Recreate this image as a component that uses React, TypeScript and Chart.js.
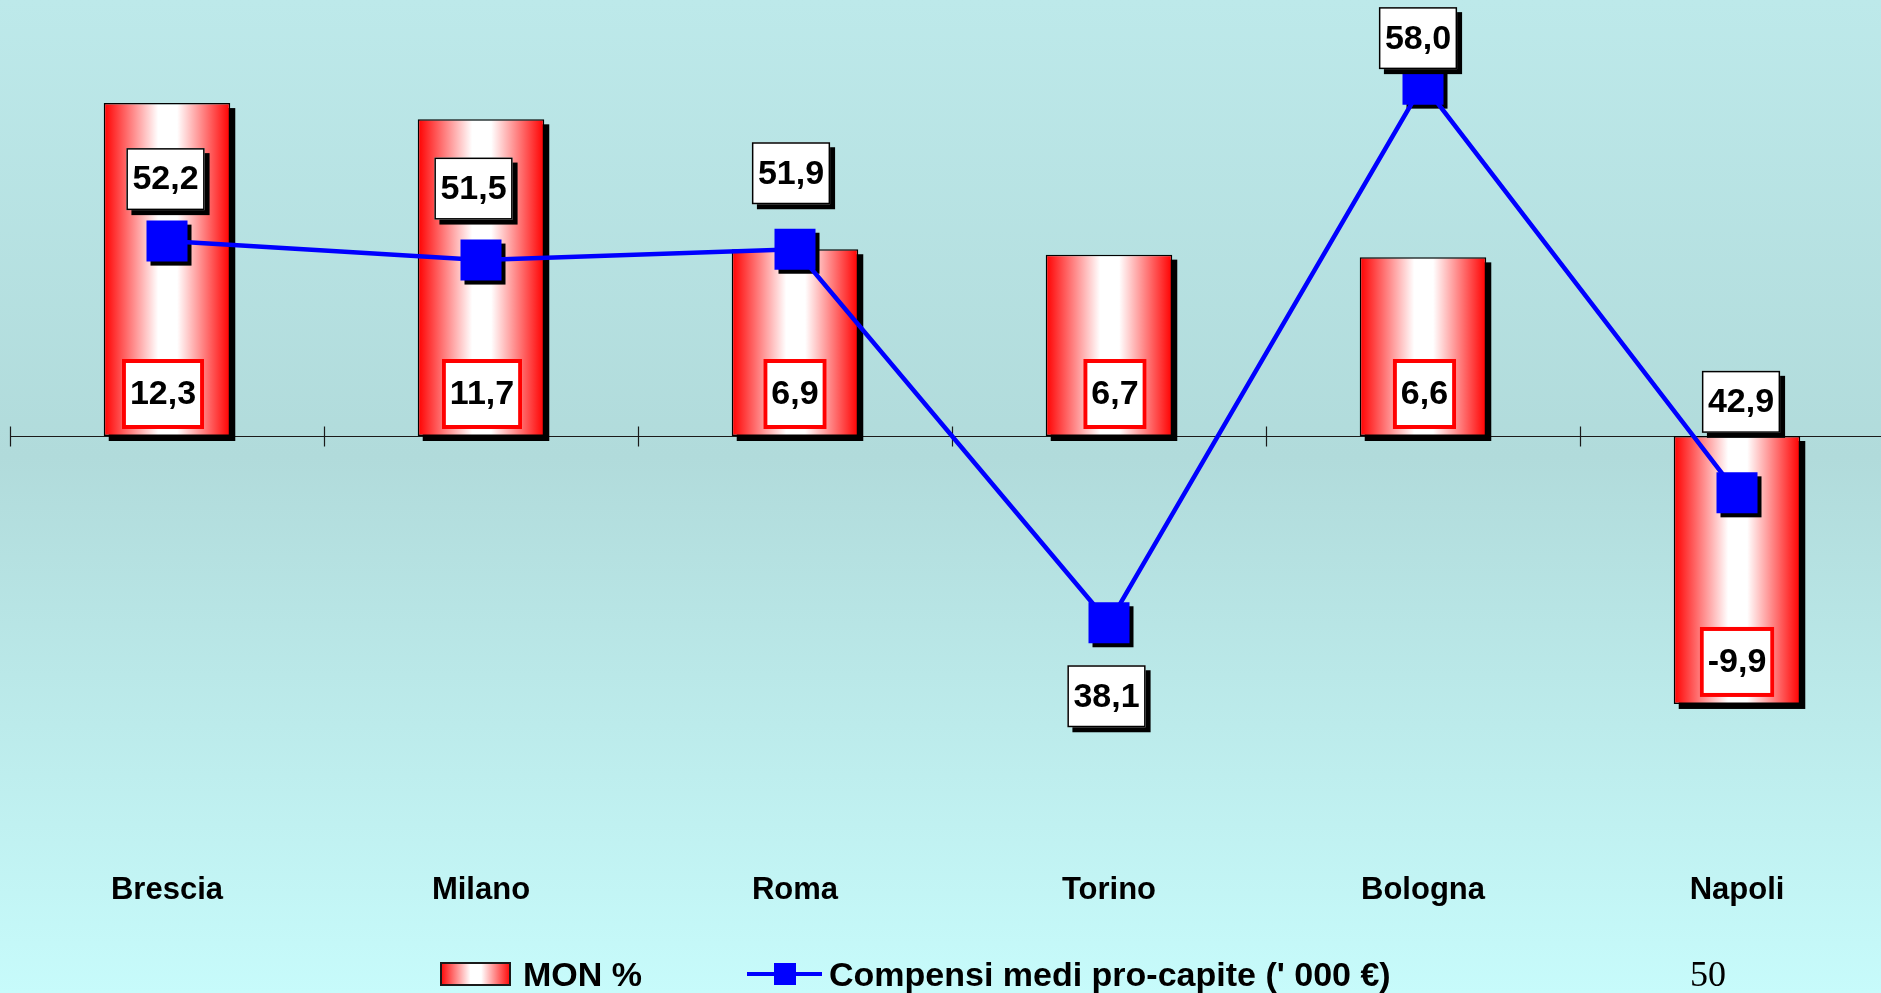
import React, { useEffect, useRef } from "react";
import { Chart, registerables } from "chart.js";

Chart.register(...registerables);

// ---- data ----
const categories = ["Brescia", "Milano", "Roma", "Torino", "Bologna", "Napoli"];
const monPercent = [12.3, 11.7, 6.9, 6.7, 6.6, -9.9];
const compensiMedi = [52.2, 51.5, 51.9, 38.1, 58.0, 42.9];
const barSeriesName = "MON %";
const lineSeriesName = "Compensi medi pro-capite (' 000 €)";
const pageNumber = "50";

// ---- layout / style constants (label placement offsets in px) ----
const lineLabelDy = [-62, -71.5, -76, 73.5, -46, -91];
const lineLabelDx = [-1.5, -7.5, -4, -2.5, -5, 4];
const barLabelDx = [-4, 1, 0, 6, 1.5, 0];

const FONT = "'Liberation Sans', Arial, Helvetica, sans-serif";
const BAR_PCT = 0.403;
const MARKER = 41;
const CANVAS_W = 1904;
const CANVAS_H = 993;

const fmt = (v: number) => v.toFixed(1).replace(".", ",");

function redGradient(ctx: CanvasRenderingContext2D, x0: number, x1: number) {
  const g = ctx.createLinearGradient(x0, 0, x1, 0);
  g.addColorStop(0, "#FF0000");
  g.addColorStop(0.43, "#FFFFFF");
  g.addColorStop(0.58, "#FFFFFF");
  g.addColorStop(1, "#FF0000");
  return g;
}

const decorPlugin = {
  id: "decor",
  beforeDatasetsDraw(chart: any) {
    const ctx = chart.ctx as CanvasRenderingContext2D;
    const xs = chart.scales.x;
    const ys = chart.scales.y;
    const y0 = Math.round(ys.getPixelForValue(0)) + 0.5;
    const catW = xs.width / categories.length;
    ctx.save();
    ctx.strokeStyle = "#1a1a1a";
    ctx.lineWidth = 1.2;
    ctx.beginPath();
    ctx.moveTo(xs.left, y0);
    ctx.lineTo(chart.width, y0);
    for (let i = 0; i <= categories.length; i++) {
      const tx = Math.round(xs.left + i * catW) + 0.5;
      ctx.moveTo(tx, y0 - 10);
      ctx.lineTo(tx, y0 + 10);
    }
    ctx.stroke();
    ctx.restore();
  },
  beforeDatasetDraw(chart: any, args: any) {
    const ctx = chart.ctx as CanvasRenderingContext2D;
    const meta = args.meta;
    ctx.save();
    ctx.fillStyle = "#000000";
    if (meta.type === "bar") {
      meta.data.forEach((el: any) => {
        const { x, y, base, width } = el.getProps(["x", "y", "base", "width"], true);
        const top = Math.min(y, base);
        const h = Math.abs(y - base);
        ctx.fillRect(x - width / 2 + 5, top + 5, width, h);
      });
    } else if (meta.type === "line") {
      meta.data.forEach((el: any) => {
        const { x, y } = el.getProps(["x", "y"], true);
        ctx.fillRect(x - MARKER / 2 + 4, y - MARKER / 2 + 4, MARKER, MARKER);
      });
    }
    ctx.restore();
  },
  afterDatasetsDraw(chart: any) {
    const ctx = chart.ctx as CanvasRenderingContext2D;
    ctx.save();
    ctx.font = `bold 34px ${FONT}`;
    ctx.textAlign = "center";
    ctx.textBaseline = "middle";

    // bar labels
    const barMeta = chart.getDatasetMeta(1);
    barMeta.data.forEach((el: any, i: number) => {
      const { x, y, base } = el.getProps(["x", "y", "base"], true);
      const text = fmt(monPercent[i]);
      const tw = ctx.measureText(text).width;
      const w = tw + 16;
      const h = 70;
      const low = Math.max(y, base);
      const bx = x + barLabelDx[i] - w / 2;
      const by = low - 7 - h;
      ctx.fillStyle = "#FFFFFF";
      ctx.fillRect(bx, by, w, h);
      ctx.strokeStyle = "#FF0000";
      ctx.lineWidth = 4;
      ctx.strokeRect(bx + 2, by + 2, w - 4, h - 4);
      ctx.fillStyle = "#000000";
      ctx.fillText(text, bx + w / 2, by + h / 2 + 1);
    });

    // line labels
    const lineMeta = chart.getDatasetMeta(0);
    lineMeta.data.forEach((el: any, i: number) => {
      const { x, y } = el.getProps(["x", "y"], true);
      const text = fmt(compensiMedi[i]);
      const tw = ctx.measureText(text).width;
      const w = tw + 12;
      const h = 62;
      const cx = x + lineLabelDx[i];
      const cy = y + lineLabelDy[i];
      const bx = cx - w / 2;
      const by = cy - h / 2;
      ctx.fillStyle = "#000000";
      ctx.fillRect(bx + 5, by + 5, w, h);
      ctx.fillStyle = "#FFFFFF";
      ctx.fillRect(bx, by, w, h);
      ctx.strokeStyle = "#000000";
      ctx.lineWidth = 1.5;
      ctx.strokeRect(bx + 0.75, by + 0.75, w - 1.5, h - 1.5);
      ctx.fillStyle = "#000000";
      ctx.fillText(text, cx, cy + 1);
    });
    ctx.restore();
  },
  afterDraw(chart: any) {
    const ctx = chart.ctx as CanvasRenderingContext2D;
    ctx.save();
    // legend: bar series
    const lbx = 440, lby = 962, lbw = 71, lbh = 24;
    ctx.fillStyle = redGradient(ctx, lbx, lbx + lbw);
    ctx.fillRect(lbx, lby, lbw, lbh);
    ctx.strokeStyle = "#1a1a1a";
    ctx.lineWidth = 2;
    ctx.strokeRect(lbx + 1, lby + 1, lbw - 2, lbh - 2);
    ctx.font = `bold 34px ${FONT}`;
    ctx.textAlign = "left";
    ctx.textBaseline = "middle";
    ctx.fillStyle = "#000000";
    ctx.fillText(barSeriesName, 523, 977);
    // legend: line series
    ctx.strokeStyle = "#0000FF";
    ctx.lineWidth = 4;
    ctx.beginPath();
    ctx.moveTo(747, 974);
    ctx.lineTo(822, 974);
    ctx.stroke();
    ctx.fillStyle = "#0000FF";
    ctx.fillRect(785 - 11, 974 - 11, 22, 22);
    ctx.fillStyle = "#000000";
    ctx.fillText(lineSeriesName, 829, 977);
    // page number
    ctx.font = `36px 'Liberation Serif', 'Times New Roman', serif`;
    ctx.textBaseline = "alphabetic";
    ctx.fillText(pageNumber, 1690, 986);
    ctx.restore();
  },
};

export default function App() {
  const canvasRef = useRef<HTMLCanvasElement | null>(null);

  useEffect(() => {
    const canvas = canvasRef.current;
    if (!canvas) return;
    const chart = new Chart(canvas, {
      data: {
        labels: categories,
        datasets: [
          {
            type: "line",
            label: lineSeriesName,
            data: compensiMedi,
            yAxisID: "y1",
            borderColor: "#0000FF",
            borderWidth: 4.5,
            tension: 0,
            pointStyle: "rect",
            pointRadius: MARKER / (2 * Math.SQRT1_2),
            pointHoverRadius: MARKER / (2 * Math.SQRT1_2),
            pointBackgroundColor: "#0000FF",
            pointBorderWidth: 0,
            order: 0,
          } as any,
          {
            type: "bar",
            label: barSeriesName,
            data: monPercent,
            yAxisID: "y",
            backgroundColor: (c: any) => {
              const ch = c.chart;
              const xs = ch.scales && ch.scales.x;
              if (!xs || c.dataIndex === undefined || !ch.chartArea) return "#FF0000";
              const cx = xs.getPixelForValue(c.dataIndex);
              const w = (xs.width / categories.length) * BAR_PCT;
              if (!isFinite(cx) || !isFinite(w) || w <= 0) return "#FF0000";
              return redGradient(ch.ctx, cx - w / 2, cx + w / 2);
            },
            borderColor: "#000000",
            borderWidth: 1.5,
            borderSkipped: false,
            barPercentage: BAR_PCT,
            categoryPercentage: 1,
            order: 1,
          } as any,
        ],
      },
      options: {
        animation: false,
        responsive: false,
        events: [],
        layout: { autoPadding: false, padding: { left: 10, right: 10, top: 30, bottom: 0 } },
        plugins: {
          legend: { display: false },
          tooltip: { enabled: false },
          title: { display: false },
        },
        scales: {
          x: {
            type: "category",
            position: "bottom",
            grid: { display: false, drawTicks: false },
            border: { display: false },
            ticks: {
              color: "#000000",
              font: { family: FONT, size: 31, weight: "bold" },
              padding: 30,
              maxRotation: 0,
              autoSkip: false,
            },
            afterFit: (s: any) => {
              s.height = 151;
            },
          },
          y: {
            type: "linear",
            position: "left",
            display: false,
            min: -15,
            max: 15,
          },
          y1: {
            type: "linear",
            position: "right",
            display: false,
            min: 30,
            max: 60,
          },
        },
      } as any,
      plugins: [decorPlugin],
    });
    return () => chart.destroy();
  }, []);

  return (
    <div
      style={{
        position: "fixed",
        left: 0,
        top: 0,
        width: 1881,
        height: 993,
        overflow: "hidden",
        background:
          "linear-gradient(to bottom, #BDE9EA 0%, #B1DBDB 46%, #C7FBFB 100%)",
      }}
    >
      <canvas
        ref={canvasRef}
        width={CANVAS_W}
        height={CANVAS_H}
        style={{ display: "block", width: CANVAS_W, height: CANVAS_H }}
      />
    </div>
  );
}
